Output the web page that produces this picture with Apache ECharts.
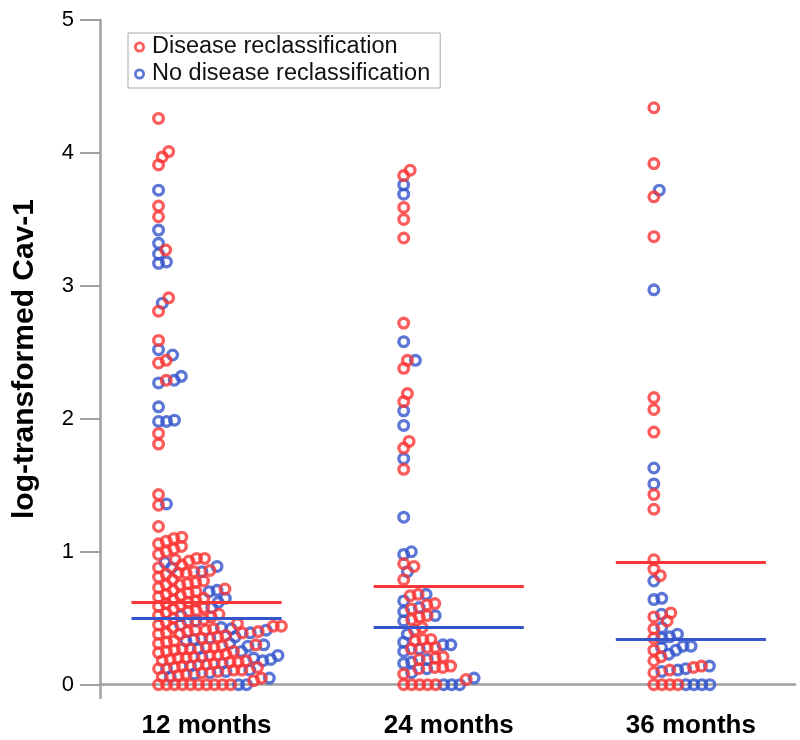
<!DOCTYPE html>
<html>
<head>
<meta charset="utf-8">
<script src="https://cdn.jsdelivr.net/npm/echarts@6/dist/echarts.min.js"></script>
<style>html,body{margin:0;padding:0;background:#fff;}#chart{width:800px;height:740px;}</style>
</head>
<body>
<div id="chart"></div>
<script>
// ---- data ----
const categories = ['12 months', '24 months', '36 months'];
const seriesNames = ['Disease reclassification', 'No disease reclassification'];
const yTicks = [0, 1, 2, 3, 4, 5];

const red12 = [4.26, 4.01, 3.97, 3.91, 3.60, 3.52, 3.27, 2.91, 2.81, 2.59, 2.44, 2.42, 2.29, 1.89, 1.81, 1.43, 1.35, 1.19, 1.11, 1.10,
  1.08, 1.06, 1.04, 1.02, 1.00, 0.98, 0.95, 0.95, 0.94, 0.93, 0.90, 0.88, 0.86, 0.85, 0.84, 0.84, 0.83, 0.81, 0.79, 0.78, 0.77,
  0.76, 0.75, 0.75, 0.73, 0.72, 0.71, 0.70, 0.69, 0.68, 0.67, 0.66, 0.65, 0.64, 0.63, 0.62, 0.61, 0.60, 0.59, 0.58, 0.57,
  0.56, 0.55, 0.54, 0.53, 0.52, 0.51, 0.50, 0.49, 0.48, 0.47, 0.46, 0.45, 0.44, 0.44, 0.43, 0.42, 0.41, 0.41, 0.40, 0.40,
  0.39, 0.39, 0.38, 0.38, 0.37, 0.36, 0.35, 0.33, 0.32, 0.31, 0.30, 0.29, 0.28, 0.28, 0.27, 0.27, 0.26, 0.25, 0.25, 0.24,
  0.23, 0.22, 0.22, 0.21, 0.20, 0.20, 0.19, 0.18, 0.18, 0.17, 0.17, 0.16, 0.15, 0.15, 0.14, 0.13, 0.13, 0.12, 0.11, 0.11,
  0.10, 0.09, 0.08, 0.07, 0.06, 0.05, 0.03, 0, 0, 0, 0, 0, 0, 0, 0, 0, 0];
const blue12 = [3.72, 3.42, 3.32, 3.24, 3.18, 3.17, 2.87, 2.52, 2.48, 2.32, 2.29, 2.27, 2.09, 1.99, 1.98, 1.98, 1.36,
  0.92, 0.89, 0.88, 0.85, 0.71, 0.70, 0.65, 0.62, 0.58, 0.52, 0.48, 0.45, 0.43, 0.42, 0.41, 0.39, 0.36, 0.35, 0.34, 0.33,
  0.31, 0.30, 0.29, 0.27, 0.25, 0.22, 0.21, 0.20, 0.19, 0.18, 0.16, 0.14, 0.12, 0.11, 0.10, 0.09, 0.08, 0.06, 0.05, 0, 0];
const red24 = [3.87, 3.83, 3.59, 3.50, 3.36, 2.72, 2.44, 2.38, 2.19, 2.13, 1.83, 1.78, 1.62, 0.91, 0.89, 0.79, 0.68, 0.67,
  0.61, 0.60, 0.57, 0.52, 0.51, 0.49, 0.43, 0.41, 0.34, 0.34, 0.33, 0.28, 0.28, 0.27, 0.21, 0.20, 0.19, 0.14, 0.13, 0.13,
  0.12, 0.08, 0.04, 0, 0, 0, 0, 0];
const blue24 = [3.76, 3.69, 2.58, 2.44, 2.06, 1.95, 1.70, 1.26, 1.00, 0.98, 0.85, 0.68, 0.63, 0.58, 0.55, 0.52, 0.48,
  0.38, 0.32, 0.30, 0.30, 0.27, 0.25, 0.19, 0.17, 0.16, 0.12, 0.09, 0.05, 0, 0, 0];
const red36 = [4.34, 3.92, 3.67, 3.37, 2.16, 2.07, 1.90, 1.43, 1.32, 0.94, 0.87, 0.82, 0.54, 0.51, 0.48, 0.42, 0.35,
  0.26, 0.21, 0.18, 0.14, 0.13, 0.11, 0.09, 0, 0, 0, 0];
const blue36 = [3.72, 2.97, 1.63, 1.51, 0.78, 0.65, 0.64, 0.53, 0.43, 0.38, 0.36, 0.35, 0.29, 0.29, 0.28, 0.26, 0.23,
  0.14, 0.12, 0.11, 0.10, 0, 0, 0, 0];
const redMeans = [0.62, 0.74, 0.92];
const blueMeans = [0.50, 0.43, 0.34];

// ---- layout constants ----
const RED = '#fa3535', BLUE = '#3555cc';
const GRID = {left: 100, top: 20, width: 695, height: 678};
const Y_MIN = -0.1, Y_MAX = 5;
const X_MIN = 0.56, X_MAX = 3.43;
const pxPerY = GRID.height / (Y_MAX - Y_MIN);
const pxPerX = GRID.width / (X_MAX - X_MIN);
const DOT_START_PX = [-48, -45, -37];  // where each swarm starts, px from group centre
const SW = 8;              // px horizontal clearance
const SH = 9;              // px vertical clearance
const LINE_HALF = 0.31;
// ring symbol (annulus) so that the stroke is thick and the centre stays open
const RING = 'path://M0,-6A6,6 0 1,1 0,6A6,6 0 1,1 0,-6ZM0,-2.9A2.9,2.9 0 1,0 0,2.9A2.9,2.9 0 1,0 0,-2.9Z';

// one-sided beeswarm: each dot goes to the smallest offset that clears the dots already placed
function swarm(gi, reds, blues) {
  const pts = reds.map(v => ({v, s: 0})).concat(blues.map(v => ({v, s: 1})));
  pts.sort((a, b) => a.v - b.v || a.s - b.s);
  const placed = [];
  const out = [[], []];
  pts.forEach(p => {
    const yp = p.v * pxPerY;
    const near = placed.filter(q => Math.abs(q.y - yp) < SH);
    const cands = [0];
    near.forEach(q => {
      const dy = (q.y - yp) / SH;
      cands.push(q.x + SW * Math.sqrt(1 - dy * dy));
    });
    cands.sort((a, b) => a - b);
    let x = cands[cands.length - 1];
    for (const c of cands) {
      if (near.every(q => ((c - q.x) / SW) ** 2 + ((yp - q.y) / SH) ** 2 >= 0.999)) { x = c; break; }
    }
    placed.push({x, y: yp});
    out[p.s].push([gi + 1 + (DOT_START_PX[gi] + x) / pxPerX, p.v]);
  });
  return out;
}
const groups = [[red12, blue12], [red24, blue24], [red36, blue36]].map((g, i) => swarm(i, g[0], g[1]));
const redPts = [].concat(...groups.map(g => g[0]));
const bluePts = [].concat(...groups.map(g => g[1]));

function meanLines(means) {
  return means.map((m, i) => [{coord: [i + 1 - LINE_HALF, m]}, {coord: [i + 1 + LINE_HALF, m]}]);
}

const FONT = 'Liberation Sans, Arial, sans-serif';
const chart = echarts.init(document.getElementById('chart'), null, {renderer: 'canvas'});
chart.setOption({
  animation: false,
  backgroundColor: '#fff',
  grid: GRID,
  legend: {
    orient: 'vertical', left: 128, top: 33,
    data: [{name: seriesNames[0], icon: RING}, {name: seriesNames[1], icon: RING}],
    itemWidth: 11, itemHeight: 11, itemGap: 3,
    padding: [2, 10, 2, 6],
    borderColor: '#aaaaaa', borderWidth: 1,
    textStyle: {fontFamily: FONT, fontSize: 23.5, color: '#111', padding: [0, 0, 0, 2]}
  },
  xAxis: {
    type: 'value', min: X_MIN, max: X_MAX,
    axisLine: {lineStyle: {color: '#a0a0a0', width: 2.5}},
    axisTick: {show: false},
    splitLine: {show: false},
    axisLabel: {
      customValues: [1, 2, 3],
      formatter: v => categories[Math.round(v) - 1],
      fontFamily: FONT, fontSize: 26, fontWeight: 'bold', color: '#000', margin: 15
    }
  },
  yAxis: {
    type: 'value', min: Y_MIN, max: Y_MAX,
    name: 'log-transformed Cav-1', nameLocation: 'middle', nameGap: 60,
    nameTextStyle: {fontFamily: FONT, fontSize: 30, fontWeight: 'bold', color: '#000'},
    axisLine: {show: true, lineStyle: {color: '#a0a0a0', width: 2.5}},
    axisTick: {show: true, customValues: yTicks, length: 20, lineStyle: {color: '#a0a0a0', width: 2}},
    splitLine: {show: false},
    axisLabel: {customValues: yTicks, fontFamily: FONT, fontSize: 22, color: '#000', margin: 26}
  },
  series: [
    {
      name: seriesNames[1], type: 'scatter', symbol: RING, symbolSize: 13,
      itemStyle: {color: BLUE},
      data: bluePts, z: 2,
      markLine: {silent: true, symbol: 'none', label: {show: false},
        lineStyle: {color: BLUE, width: 3, type: 'solid'}, data: meanLines(blueMeans)}
    },
    {
      name: seriesNames[0], type: 'scatter', symbol: RING, symbolSize: 13,
      itemStyle: {color: RED},
      data: redPts, z: 3,
      markLine: {silent: true, symbol: 'none', label: {show: false},
        lineStyle: {color: RED, width: 3, type: 'solid'}, data: meanLines(redMeans)}
    }
  ]
});
</script>
</body>
</html>
